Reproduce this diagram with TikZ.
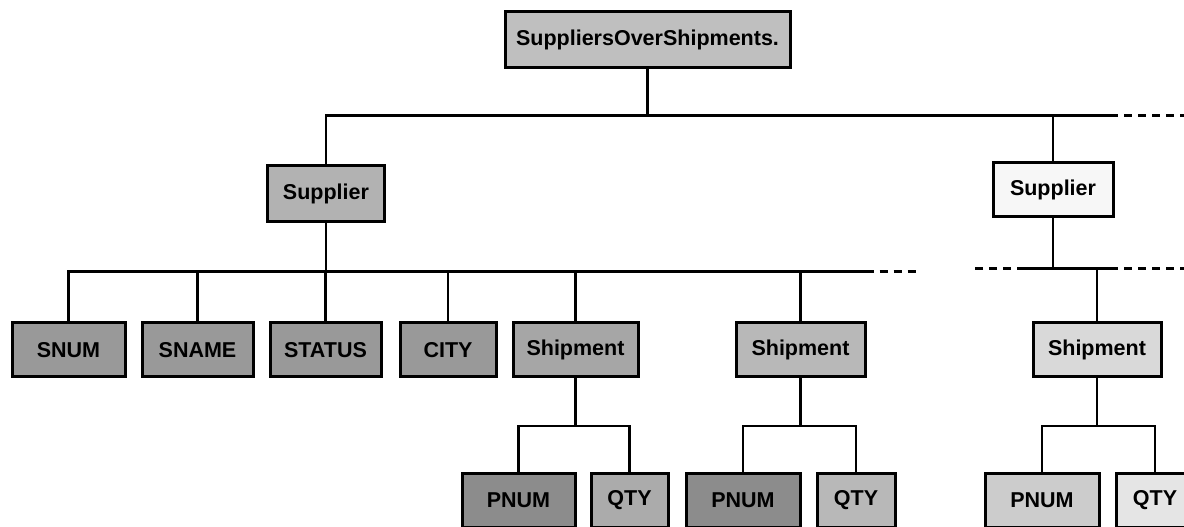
\documentclass[tikz,border=0pt]{standalone}
\usepackage{fontspec}
\setmainfont{Liberation Sans}
\usetikzlibrary{positioning}

\begin{document}
\begin{tikzpicture}[
    x=1pt,
    y=1pt,
    rec/.style={draw, line width=3pt, align=center, minimum height=54, inner sep=2pt, font=\fontsize{21.5}{24}\selectfont\bfseries},
    conn/.style={line width=2.3pt},
    more/.style={line width=2.3pt, dash pattern=on 8pt off 6pt}
]
\useasboundingbox (0,0) rectangle (1184,527);

% record types
\node[rec, fill=black!25, minimum width=285, minimum height=56] (sos) at (647.5,487) {SuppliersOverShipments.};
\node[rec, fill=black!30, minimum width=117, minimum height=56] (sup1) at (326,333) {Supplier};
\node[rec, fill=black!3, minimum width=120] (sup2) at (1053,337) {Supplier};

% fields of a supplier
\node[rec, fill=black!40, minimum width=113] (snum) at (68.5,177) {SNUM};
\node[rec, fill=black!40, minimum width=111] (sname) at (197.5,177) {SNAME};
\node[rec, fill=black!40, minimum width=111] (status) at (325.5,177) {STATUS};
\node[rec, fill=black!40, minimum width=96] (city) at (448,177) {CITY};
\node[rec, fill=black!35, minimum width=125] (ship1) at (575.5,177) {Shipment};
\node[rec, fill=black!28, minimum width=129] (ship2) at (800.5,177) {Shipment};
\node[rec, fill=black!15, minimum width=128] (ship3) at (1097,177) {Shipment};

% fields of a shipment
\node[rec, fill=black!45, minimum width=113] (pnum1) at (518.5,26.5) {PNUM};
\node[rec, fill=black!33, minimum width=77] (qty1) at (629.5,26.5) {QTY};
\node[rec, fill=black!45, minimum width=114] (pnum2) at (743,26.5) {PNUM};
\node[rec, fill=black!28, minimum width=78] (qty2) at (856,26.5) {QTY};
\node[rec, fill=black!20, minimum width=114] (pnum3) at (1042,26.5) {PNUM};
\node[rec, fill=black!10, minimum width=78] (qty3) at (1155,26.5) {QTY};

% level 1
\draw[conn] (sos.south) -- ++(0,-46) coordinate (j0);
\draw[conn] (sup1.north) |- (j0) -- (sup2.north |- j0) -- ++(57,0) coordinate (j0r);
\draw[more] (j0r) -- ++(74,0);
\draw[conn] (sup2.north) -- (sup2.north |- j0);

% level 2, first supplier
\draw[conn] (sup1.south) -- ++(0,-48) coordinate (j1);
\draw[conn] (snum.north) |- (j1) -- (ship2.north |- j1) -- ++(65,0) coordinate (j1r);
\draw[more] (j1r) -- ++(55,0);
\foreach \f in {sname,status,city,ship1,ship2}
  \draw[conn] (\f.north) -- (\f.north |- j1);

% level 2, second supplier
\draw[conn] (sup2.south) -- ++(0,-50) coordinate (j2);
\draw[conn] (j2) ++(-28,0) coordinate (j2l) -- (ship3.north |- j2) -- ++(13,0) coordinate (j2r);
\draw[more] (j2l) -- ++(-55,0);
\draw[more] (j2r) -- ++(74,0);
\draw[conn] (ship3.north) -- (ship3.north |- j2);

% level 3
\draw[conn] (ship1.south) -- ++(0,-47.5) coordinate (k1);
\draw[conn] (pnum1.north) |- (k1) -| (qty1.north);
\draw[conn] (ship2.south) -- ++(0,-47.5) coordinate (k2);
\draw[conn] (pnum2.north) |- (k2) -| (qty2.north);
\draw[conn] (ship3.south) -- ++(0,-47.5) coordinate (k3);
\draw[conn] (pnum3.north) |- (k3) -| (qty3.north);
\end{tikzpicture}
\end{document}
